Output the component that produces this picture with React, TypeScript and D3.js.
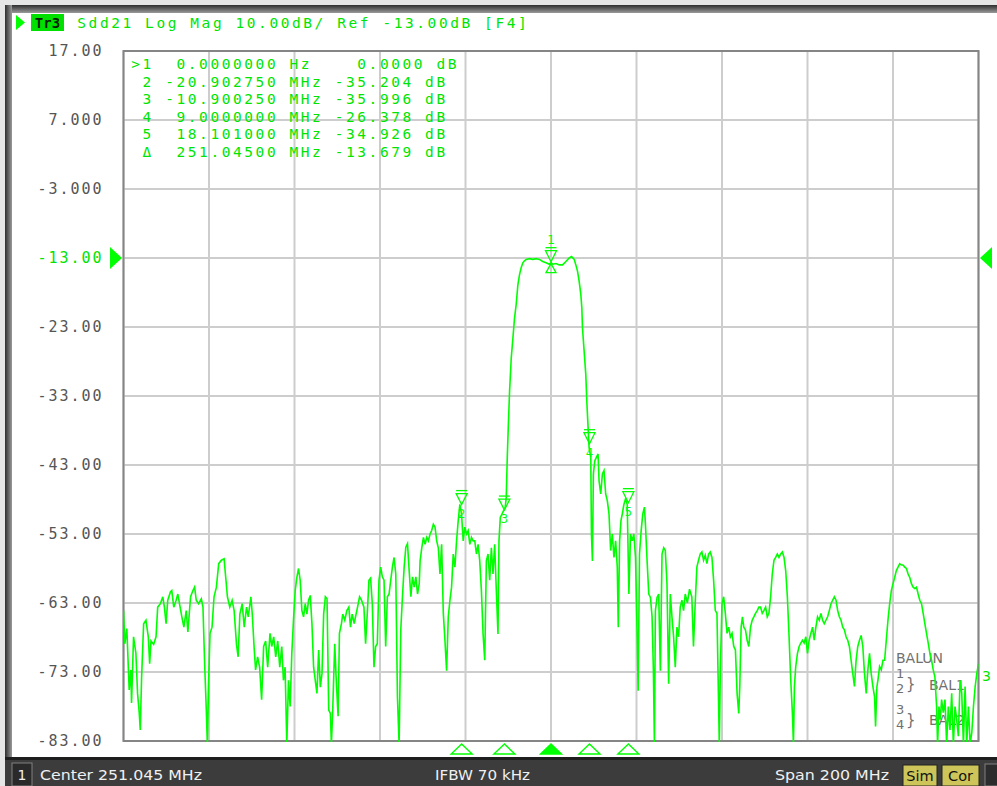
import React from 'react';
import * as d3 from 'd3';

// ---------- DATA ----------
// Trace Sdd21 (frequency offset from center in MHz, magnitude in dB)
const traceLow: [number, number][] = [
  [-100.0, -64.1], [-99.69, -68.9], [-99.22, -66.7], [-98.67, -75.6], [-98.27, -72.7], [-98.12, -77.5],
  [-97.65, -67.9], [-97.1, -70.3], [-96.71, -76.1], [-96.31, -79], [-96.08, -81.4], [-95.76, -73.7],
  [-95.29, -66], [-94.75, -65.5], [-94.2, -67.9], [-93.88, -71.8], [-93.57, -68.5], [-92.94, -69],
  [-92.39, -67.9], [-92.0, -63.6], [-91.37, -63.1], [-90.82, -62.1], [-90.43, -63.6], [-90.04, -66],
  [-89.65, -62.6], [-89.02, -61.4], [-88.71, -61.2], [-88.24, -63.6], [-87.69, -62.6], [-87.29, -61.7],
  [-86.9, -63.1], [-86.35, -65], [-85.88, -66.5], [-85.33, -64.1], [-84.94, -67.2], [-84.31, -62.1],
  [-83.76, -61.2], [-83.37, -60.7], [-82.98, -62.6], [-82.43, -63.1], [-81.8, -62.4], [-81.41, -63.6],
  [-81.02, -71.8], [-80.63, -78.5], [-80.39, -83.5], [-80.08, -74.2], [-79.76, -67.4], [-79.29, -66.5],
  [-78.82, -62.1], [-78.27, -60.7], [-77.73, -57.3], [-77.1, -56.8], [-76.47, -56.6], [-76.16, -58.8],
  [-75.69, -62.1], [-75.14, -63.6], [-74.59, -62.6], [-74.12, -64.1], [-73.57, -69], [-73.18, -70.8],
  [-72.78, -64.6], [-72.24, -63.1], [-71.76, -66.5], [-71.22, -63.6], [-70.82, -65], [-70.2, -62.1],
  [-69.88, -64.6], [-69.41, -69.8], [-69.1, -72.7], [-68.63, -70.8], [-68.16, -72.3], [-67.69, -77],
  [-67.22, -69.3], [-66.75, -68.5], [-66.27, -72.3], [-65.73, -67.4], [-65.33, -69.3], [-64.86, -67.9],
  [-64.39, -70.8], [-63.92, -68.5], [-63.45, -72.3], [-62.98, -69.3], [-62.59, -74.2], [-62.2, -72.3],
  [-61.8, -83.5], [-61.41, -74.2], [-61.02, -78], [-60.63, -70.3], [-60.24, -65.5], [-59.84, -61.2],
  [-59.45, -59.3], [-59.06, -58.0], [-58.67, -59.7], [-58.27, -64.1], [-57.88, -65], [-57.49, -63.1],
  [-57.1, -64.6], [-56.71, -62.6], [-56.31, -61.9], [-55.92, -66], [-55.53, -72.3], [-55.14, -74.2],
  [-54.75, -76.1], [-54.35, -69.8], [-53.96, -75.2], [-53.57, -73.2], [-53.18, -64.6], [-52.78, -62.1],
  [-52.39, -62.4], [-52.0, -78.5], [-51.61, -79], [-51.37, -83.5], [-51.06, -78.5], [-50.59, -68.9],
  [-50.27, -73.7], [-49.8, -79.4], [-49.49, -67.4], [-49.02, -66], [-48.71, -64.6], [-48.24, -65.5],
  [-47.76, -64.1], [-47.29, -63.6], [-46.9, -66.5], [-46.51, -64.6], [-46.04, -66], [-45.73, -65],
  [-45.25, -63.6], [-44.78, -62.1], [-44.31, -62.6], [-43.76, -63.6], [-43.37, -68.9], [-42.98, -64.6],
  [-42.59, -59.7], [-42.2, -59.4], [-41.8, -63.1], [-41.41, -72.3], [-41.02, -69.3], [-40.63, -68.9],
  [-40.24, -59.7], [-39.84, -57.8], [-39.45, -59.2], [-39.06, -59.7], [-38.67, -69.3], [-38.27, -62.1],
  [-37.88, -61.7], [-37.49, -59.7], [-37.1, -57.8], [-36.71, -56.4], [-36.31, -58.8], [-35.92, -76.6],
  [-35.53, -83.5], [-35.14, -66.9], [-34.75, -62.1], [-34.35, -57.8], [-33.96, -54.9], [-33.57, -54.4],
  [-33.18, -58.3], [-32.78, -62.1], [-32.39, -59.2], [-32.0, -60.7], [-31.61, -59.2], [-31.22, -61.7],
  [-30.82, -60.2],
];

const tracePass: [number, number][] = [
  [-30.62, -56.9], [-30.23, -55], [-29.84, -53.5], [-29.46, -54.5], [-29.07, -53.5], [-28.68, -54],
  [-28.29, -53], [-27.91, -52.5], [-27.52, -51.6], [-27.13, -52], [-26.74, -54], [-26.36, -55],
  [-25.97, -58.8], [-25.58, -54.5], [-25.19, -64.5], [-24.81, -68.4], [-24.42, -72.8], [-24.03, -65],
  [-23.64, -62.6], [-23.26, -60.7], [-22.87, -55.9], [-22.48, -57.8], [-22.09, -54], [-21.71, -51.1],
  [-21.32, -48.7], [-20.93, -50.1], [-20.54, -54], [-20.16, -52], [-19.77, -53], [-19.38, -52.5],
  [-18.99, -54.5], [-18.6, -53.5], [-18.22, -54], [-17.83, -54], [-17.44, -55.9], [-17.05, -54.5],
  [-16.67, -56.9], [-16.28, -61.2], [-15.89, -67.5], [-15.5, -71.3], [-15.12, -56.9], [-14.73, -55.9],
  [-14.34, -59.7], [-13.95, -55], [-13.57, -58.8], [-13.18, -54.5], [-12.79, -61.2], [-12.4, -67.5],
  [-12.17, -54], [-11.86, -50.6], [-11.47, -50.1], [-11.09, -49.6], [-10.7, -49.1], [-10.47, -47.7],
  [-10.23, -41.9], [-10.0, -37.6], [-9.69, -32.3], [-9.3, -27.5], [-8.91, -24.6], [-8.53, -21.7],
  [-8.14, -19.7], [-7.75, -16.9], [-7.36, -15.4], [-6.98, -14.4], [-6.59, -13.7], [-6.2, -13.4],
  [-5.81, -13.2], [-5.04, -13.1], [-4.26, -13.2], [-3.49, -13.1], [-2.71, -13.2], [-1.94, -13.5],
  [-1.16, -13.7], [-0.39, -13.9], [0, -13.7], [0.39, -13.9], [1.16, -13.8], [1.94, -14.0],
  [2.71, -14.0], [3.49, -13.5], [4.26, -13.0], [4.81, -12.8], [5.43, -13.2], [5.81, -14],
  [6.2, -14.9], [6.59, -16.4], [6.98, -18.3], [7.21, -20.2], [7.36, -23.1], [7.75, -26.5],
  [8.14, -29.9], [8.37, -33.7], [8.68, -37.6], [8.91, -40.5], [9.3, -41.9], [9.46, -53],
  [9.69, -56.9], [9.92, -44.3], [10.23, -42.4], [10.62, -41.9], [11.01, -41.4], [11.24, -45.3],
  [11.63, -47.2], [12.02, -44.3], [12.4, -43.8], [12.79, -47.2], [13.18, -48.2], [13.57, -50.1],
  [13.95, -55.4], [14.34, -53], [14.73, -56.4], [15.12, -54], [15.5, -57.8], [15.74, -66.5],
  [16.05, -54], [16.36, -51.1], [16.67, -50.1], [17.05, -48.7], [17.44, -47.9], [17.83, -48.7],
  [18.22, -61.7], [18.6, -53], [18.99, -54], [19.38, -53], [19.77, -56.4], [20.16, -67.9],
  [20.39, -75.7], [20.7, -55.9], [21.09, -52.5], [21.47, -50.1], [21.86, -49.1], [22.09, -51.6],
  [22.48, -56.9], [22.87, -61.7], [23.26, -62.2], [23.64, -65], [23.95, -72.7], [24.19, -83.5],
  [24.42, -64.1], [24.81, -62.2], [25.19, -61.7], [25.58, -72.8], [25.97, -55.9], [26.36, -55],
  [26.74, -55.4], [27.13, -60.2], [27.52, -74.7], [27.91, -61.7], [28.29, -65], [28.68, -67.9],
  [29.07, -72.3], [29.46, -66.5], [29.84, -67.9], [30.23, -63.6], [30.62, -62.6], [31.01, -64.1],
  [31.4, -61.7], [31.9, -63.0], [32.4, -61.0],
];

const traceHigh: [number, number][] = [
  [32.94, -62.1], [33.33, -69.3], [33.73, -63.1], [34.12, -57.8], [34.51, -56.8], [34.9, -55.9],
  [35.29, -55.6], [35.69, -56.8], [36.08, -56.1], [36.47, -57.3], [36.86, -55.9], [37.25, -55.6],
  [37.65, -56.4], [38.04, -59.7], [38.43, -64.1], [38.82, -64.5], [39.06, -72.7], [39.37, -83.5],
  [39.61, -72.7], [40.0, -63.1], [40.39, -62.1], [40.78, -64.5], [41.18, -67.4], [41.57, -66.5],
  [41.96, -67.9], [42.35, -67.4], [42.75, -69.3], [43.14, -69.8], [43.53, -76.1], [43.92, -79],
  [44.16, -75.1], [44.47, -66.5], [44.78, -65], [45.1, -66.5], [45.49, -66.9], [45.88, -68.4],
  [46.27, -69.3], [46.67, -66.5], [47.06, -65.5], [47.45, -65], [47.84, -64.5], [48.24, -64.1],
  [48.63, -63.6], [49.02, -63.6], [49.41, -64.5], [49.8, -64.1], [50.2, -63.6], [50.59, -65],
  [50.98, -64.5], [51.37, -62.1], [51.76, -58.8], [52.16, -56.8], [52.55, -56.4], [52.94, -55.9],
  [53.33, -56.4], [53.73, -55.9], [54.12, -55.6], [54.51, -56.4], [54.9, -58.3], [55.29, -62.1],
  [55.69, -67.9], [56.08, -74.2], [56.47, -79], [56.71, -83.5], [56.94, -75.1], [57.25, -72.2],
  [57.65, -70.3], [58.04, -69.3], [58.43, -68.8], [58.82, -68.4], [59.22, -68.8], [59.61, -67.9],
  [60.0, -70.3], [60.39, -68.4], [60.78, -67.4], [61.18, -66.5], [61.57, -68.4], [61.96, -66.5],
  [62.35, -65], [62.75, -65.5], [63.14, -64.5], [63.53, -65.5], [63.92, -66], [64.31, -65.5],
  [64.71, -65], [65.1, -64.1], [65.49, -63.1], [65.88, -62.6], [66.27, -62.1], [66.67, -62.6],
  [67.06, -64.1], [67.45, -65], [67.84, -65.5], [68.24, -66.5], [68.63, -66.9], [69.02, -67.9],
  [69.41, -68.4], [69.8, -69.3], [70.2, -71.3], [70.59, -73.2], [70.98, -75.1], [71.37, -71.3],
  [71.76, -69.3], [72.16, -68.4], [72.55, -67.7], [72.94, -69.3], [73.33, -73.2], [73.73, -76.1],
  [74.12, -72.7], [74.51, -70.3], [74.9, -73.2], [75.29, -75.1], [75.69, -76.6], [75.92, -80.9],
  [76.24, -75.1], [76.47, -74.2], [76.86, -72.2], [77.25, -72.7], [77.65, -71.3], [78.04, -71.3],
  [78.43, -68.4], [78.82, -65.5], [79.22, -63.1], [79.61, -61.2], [80.0, -60.2], [80.39, -59.3],
  [80.78, -58.3], [81.18, -57.8], [81.57, -57.3], [81.96, -57.5], [82.35, -57.5], [82.75, -57.8],
  [83.14, -58.0], [83.53, -58.8], [83.92, -59.3], [84.31, -60.2], [84.71, -60.7], [85.1, -60.9],
  [85.49, -60.7], [85.88, -61.7], [86.27, -62.6], [86.67, -63.1], [87.06, -64.5], [87.45, -66],
  [87.84, -67.4], [88.24, -68.8], [88.63, -70.3], [89.02, -71.3], [89.41, -72.7], [89.8, -73.7],
  [90.2, -78], [90.43, -83.5], [90.75, -78], [91.06, -79.9], [91.37, -77], [91.76, -78.9],
  [92.16, -77], [92.55, -83.5], [92.94, -78], [93.33, -81.4], [93.73, -76.1], [94.12, -83.5],
  [94.51, -78], [94.9, -79.9], [95.29, -82.3], [95.69, -74.2], [96.08, -76.1], [96.47, -83.5],
  [96.86, -75.1], [97.25, -83.5], [97.65, -78], [98.04, -83.5], [98.43, -81.8], [98.82, -78],
  [99.22, -75.1], [99.61, -73.2], [100.0, -71.8],
];

// Markers (delta to reference marker at 251.045 MHz, -13.679 dB)
const markerIds = ['1', '2', '3', '4', '5'];
const markerOffsetsMHz = [0, -20.90275, -10.90025, 9.0, 18.101];
const markerDeltaDb = [0, -35.204, -35.996, -26.378, -34.926];
const refMarkerOffsetMHz = 0;
const refMarkerDb = -13.679;

const markerTableRows = [
  '>1  0.0000000 Hz    0.0000 dB',
  ' 2 -20.902750 MHz -35.204 dB',
  ' 3 -10.900250 MHz -35.996 dB',
  ' 4  9.0000000 MHz -26.378 dB',
  ' 5  18.101000 MHz -34.926 dB',
  ' Δ  251.04500 MHz -13.679 dB',
];

const yTickValues = [17, 7, -3, -13, -23, -33, -43, -53, -63, -73, -83];
const yTickLabels = ['17.00', '7.000', '-3.000', '-13.00', '-23.00', '-33.00', '-43.00', '-53.00', '-63.00', '-73.00', '-83.00'];
const refLevel = -13;

const headerText = 'Sdd21 Log Mag 10.00dB/ Ref -13.00dB [F4]';
const statusCenter = 'Center 251.045 MHz';
const statusIfbw = 'IFBW 70 kHz';
const statusSpan = 'Span 200 MHz';

// ---------- STYLE ----------
const GREEN = '#00ff00';
const TEXT_GREEN = '#00e400';
const MONO = '"DejaVu Sans Mono", "Liberation Mono", monospace';
const SANS = '"DejaVu Sans", Tahoma, sans-serif';
const PL = 123.5, PR = 978.5, PT = 51, PB = 741;

function Mono({ x0, y, text, pitch, fill, size }: { x0: number; y: number; text: string; pitch: number; fill: string; size: number }) {
  return (
    <g>
      {Array.from(text).map((ch, i) =>
        ch === ' ' ? null : (
          <text key={i} x={x0 + i * pitch + pitch / 2} y={y} textAnchor="middle" dominantBaseline="central"
            fill={fill} fontSize={size} fontFamily={MONO}>{ch}</text>
        )
      )}
    </g>
  );
}

export default function App() {
  const x = d3.scaleLinear().domain([-100, 100]).range([PL, PR]);
  const y = d3.scaleLinear().domain([-83, 17]).range([PB, PT]);
  const xTicks = x.ticks(10);
  const trace = [...traceLow, ...tracePass, ...traceHigh];
  const line = d3.line<[number, number]>().x(d => x(d[0])).y(d => y(d[1]));
  const refY = y(refLevel);
  const pitch = 11.3;
  const brace = '}';

  return (
    <svg width={997} height={786} style={{ position: 'absolute', left: 0, top: 0 }} xmlns="http://www.w3.org/2000/svg">
      <defs>
        <linearGradient id="topBand" x1="0" y1="0" x2="0" y2="1">
          <stop offset="0" stopColor="#2e2e2e" />
          <stop offset="1" stopColor="#9a9a9a" />
        </linearGradient>
        <linearGradient id="leftBand" x1="0" y1="0" x2="1" y2="0">
          <stop offset="0" stopColor="#2e2e2e" />
          <stop offset="1" stopColor="#9a9a9a" />
        </linearGradient>
        <clipPath id="plotClip">
          <rect x={PL} y={PT} width={PR - PL} height={PB - PT + 1} />
        </clipPath>
      </defs>
      <rect x={0} y={0} width={997} height={786} fill="#ffffff" />
      <rect x={0} y={0} width={997} height={5} fill="#e6e6e6" />
      <rect x={0} y={0} width={5} height={786} fill="#e6e6e6" />
      <rect x={5} y={5} width={992} height={8} fill="url(#topBand)" />
      <rect x={5} y={5} width={7} height={781} fill="url(#leftBand)" />

      {/* Header */}
      <path d="M16,15 L25,22.5 L16,30 Z" fill={GREEN} />
      <rect x={31} y={14} width={33} height={17} fill="#00e000" />
      <text x={47.5} y={23} textAnchor="middle" dominantBaseline="central" fontSize={14} fontFamily={MONO} fill="#002000" fontWeight="bold">Tr3</text>
      <Mono x0={76} y={22.5} text={headerText} pitch={pitch} fill={TEXT_GREEN} size={14.5} />

      {/* Grid */}
      <g>
        {xTicks.map(t => (
          <line key={'gx' + t} x1={x(t)} x2={x(t)} y1={PT} y2={PB} stroke="#cdcdcd" strokeWidth={2} />
        ))}
        {yTickValues.map(t => (
          <line key={'gy' + t} x1={PL} x2={PR} y1={y(t)} y2={y(t)} stroke="#cdcdcd" strokeWidth={2} />
        ))}
      </g>
      <rect x={PL} y={PT} width={PR - PL} height={PB - PT} fill="none" stroke="#858585" strokeWidth={2} />

      {/* Y labels */}
      {yTickValues.map((t, i) => {
        const lab = yTickLabels[i];
        const pp = 11;
        return (
          <Mono key={'yl' + t} x0={102.5 - lab.length * pp} y={y(t)} text={lab} pitch={pp}
            fill={t === refLevel ? TEXT_GREEN : '#555555'} size={15} />
        );
      })}

      {/* Reference level arrows */}
      <path d={`M110,${refY - 11} L122,${refY} L110,${refY + 11} Z`} fill={GREEN} />
      <path d={`M992,${refY - 11} L980,${refY} L992,${refY + 11} Z`} fill={GREEN} />

      {/* Marker table */}
      {markerTableRows.map((r, i) => (
        <Mono key={'mt' + i} x0={130} y={64 + i * 17.5} text={r} pitch={pitch} fill={TEXT_GREEN} size={14.5} />
      ))}

      {/* BALUN legend */}
      <g fill="#707070" fontFamily={SANS} fontSize={14}>
        <text x={896} y={663}>BALUN</text>
        <text x={896} y={678} fontSize={13}>1</text>
        <text x={896} y={693} fontSize={13}>2</text>
        <text x={906} y={689} fontSize={15}>{brace}</text>
        <text x={929} y={690}>BAL1</text>
        <text x={896} y={714} fontSize={13}>3</text>
        <text x={896} y={729} fontSize={13}>4</text>
        <text x={906} y={725} fontSize={15}>{brace}</text>
        <text x={929} y={725}>BAL2</text>
      </g>

      {/* Trace */}
      <g clipPath="url(#plotClip)">
        <path d={line(trace) || ''} fill="none" stroke={GREEN} strokeWidth={1.6} strokeLinejoin="miter" />
      </g>
      <text x={982} y={681} fill={TEXT_GREEN} fontFamily={SANS} fontSize={14}>3</text>

      {/* Markers on trace */}
      {markerIds.map((id, i) => {
        const px = x(markerOffsetsMHz[i]);
        const py = y(refMarkerDb + markerDeltaDb[i]);
        const top = i === 0;
        return (
          <g key={'mk' + id} fill="none" stroke={GREEN} strokeWidth={1.3}>
            <path d={`M${px - 5.5},${py - 12} L${px + 5.5},${py - 12} L${px},${py - 1} Z`} />
            <line x1={px - 5.5} x2={px + 5.5} y1={py - 15} y2={py - 15} />
            <text x={px} y={top ? py - 19 : py + 12} textAnchor="middle" stroke="none" fill={GREEN}
              fontFamily={SANS} fontSize={12}>{id}</text>
          </g>
        );
      })}
      {(() => {
        const px = x(refMarkerOffsetMHz);
        const py = y(refMarkerDb);
        return <path d={`M${px},${py + 1} L${px - 5},${py + 10} L${px + 5},${py + 10} Z`} fill="none" stroke={GREEN} strokeWidth={1.3} />;
      })()}

      {/* Marker position indicators under the plot */}
      {markerIds.map((id, i) => {
        const px = x(markerOffsetsMHz[i]);
        const active = i === 0;
        return (
          <path key={'mi' + id} d={`M${px},${744} L${px - 10.5},${754} L${px + 10.5},${754} Z`}
            fill={active ? GREEN : 'none'} stroke={GREEN} strokeWidth={1.4} />
        );
      })}

      {/* Status bar */}
      <rect x={5} y={757} width={992} height={29} fill="#3c3c3c" />
      <rect x={5} y={757} width={992} height={3} fill="#1e1e1e" />
      <rect x={12} y={763} width={20} height={23} fill="#2a2a2a" stroke="#808080" strokeWidth={1} />
      <text x={22} y={775} textAnchor="middle" dominantBaseline="central" fill="#f0f0f0" fontFamily={SANS} fontSize={14}>1</text>
      <text x={40} y={775} dominantBaseline="central" fill="#f0f0f0" fontFamily={SANS} fontSize={14.5} textLength={162} lengthAdjust="spacingAndGlyphs">{statusCenter}</text>
      <text x={435} y={775} dominantBaseline="central" fill="#f0f0f0" fontFamily={SANS} fontSize={14.5} textLength={95} lengthAdjust="spacingAndGlyphs">{statusIfbw}</text>
      <text x={775} y={775} dominantBaseline="central" fill="#f0f0f0" fontFamily={SANS} fontSize={14.5} textLength={114} lengthAdjust="spacingAndGlyphs">{statusSpan}</text>
      <rect x={903} y={765} width={34} height={21} fill="#cdc55a" stroke="#222" strokeWidth={1} />
      <text x={920} y={776} textAnchor="middle" dominantBaseline="central" fill="#111" fontFamily={SANS} fontSize={14.5}>Sim</text>
      <rect x={942} y={765} width={37} height={21} fill="#cdc55a" stroke="#222" strokeWidth={1} />
      <text x={960.5} y={776} textAnchor="middle" dominantBaseline="central" fill="#111" fontFamily={SANS} fontSize={14.5}>Cor</text>
      <rect x={985} y={764} width={14} height={22} fill="#2c2c2c" stroke="#808080" strokeWidth={1} />
    </svg>
  );
}
